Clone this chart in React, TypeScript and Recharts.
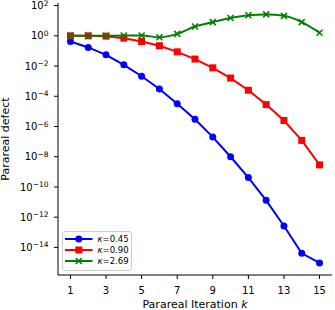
import React from "react";
import {
  LineChart,
  Line,
  XAxis,
  YAxis,
  Legend,
} from "recharts";

const iterations = [1, 2, 3, 4, 5, 6, 7, 8, 9, 10, 11, 12, 13, 14, 15];

const kappa045 = [
  0.42, 0.17, 0.055, 1.2e-2, 2.1e-3, 3.0e-4, 3.2e-5, 3.0e-6, 2.0e-7, 1.0e-8,
  4.2e-10, 1.3e-11, 2.6e-13, 4.1e-15, 9.5e-16,
];
const kappa090 = [
  1.0, 1.0, 0.95, 0.7, 0.42, 0.22, 0.087, 0.029, 7.6e-3, 1.6e-3, 2.5e-4,
  2.8e-5, 2.5e-6, 1.2e-7, 2.9e-9,
];
const kappa269 = [
  1.0, 1.0, 1.0, 1.05, 1.05, 0.8, 1.35, 4.1, 8.1, 15, 23, 26, 21, 8.1, 1.6,
];

const xTicks = [1, 3, 5, 7, 9, 11, 13, 15];
const yTicks = [1e2, 1, 1e-2, 1e-4, 1e-6, 1e-8, 1e-10, 1e-12, 1e-14];
const yExponents = ["2", "0", "−2", "−4", "−6", "−8", "−10", "−12", "−14"];

const legendItems = [
  { label: "0.45", color: "#0000ff", marker: "circle" },
  { label: "0.90", color: "#ff0000", marker: "square" },
  { label: "2.69", color: "#008000", marker: "x" },
];

const data = iterations.map((k, i) => ({
  k,
  a: kappa045[i],
  b: kappa090[i],
  c: kappa269[i],
}));

const FONT = "DejaVu Sans, sans-serif";
const X_DOMAIN = [0.3, 15.7];
const Y_DOMAIN = [1.5e-16, 148];

function Marker({ kind, cx, cy, color }: any) {
  if (kind === "circle") return <circle cx={cx} cy={cy} r={3.5} fill={color} />;
  if (kind === "square")
    return <rect x={cx - 3.5} y={cy - 3.5} width={7} height={7} fill={color} />;
  return (
    <path
      d={`M${cx - 3},${cy - 3}L${cx + 3},${cy + 3}M${cx - 3},${cy + 3}L${cx + 3},${cy - 3}`}
      stroke={color}
      strokeWidth={1.6}
      fill="none"
    />
  );
}

const dotFor = (kind: string, color: string) => (props: any) => (
  <Marker key={`${kind}-${props.index}`} kind={kind} cx={props.cx} cy={props.cy} color={color} />
);

function YTick({ x, y, payload, index }: any) {
  const i = yTicks.indexOf(payload.value);
  const exp = yExponents[i >= 0 ? i : index];
  return (
    <text x={x - 3.5} y={y + 3.6} textAnchor="end" fontSize={10} fontFamily={FONT} fill="#000">
      <tspan>10</tspan>
      <tspan dy={-3.6} fontSize={7.5}>
        {exp}
      </tspan>
    </text>
  );
}

function XLabel({ viewBox }: any) {
  const { x, y, width, height } = viewBox;
  return (
    <text x={x + width / 2} y={y + height - 2.5} textAnchor="middle" fontSize={11} fontFamily={FONT} fill="#000">
      Parareal Iteration <tspan fontStyle="italic">k</tspan>
    </text>
  );
}

function YLabel({ viewBox }: any) {
  const { y, height } = viewBox;
  const cy = y + height / 2;
  return (
    <text
      x={5.5}
      y={cy}
      textAnchor="middle"
      dominantBaseline="central"
      transform={`rotate(-90, 5.5, ${cy})`}
      fontSize={11}
      fontFamily={FONT}
      fill="#000"
    >
      Parareal defect
    </text>
  );
}

function LegendBox() {
  return (
    <div
      style={{
        width: 70,
        height: 40,
        boxSizing: "border-box",
        border: "1px solid #cccccc",
        borderRadius: 3,
        background: "rgba(255,255,255,0.8)",
      }}
    >
      <svg width={68} height={38} style={{ display: "block" }}>
        {legendItems.map((item, i) => {
          const cy = 7 + i * 11;
          return (
            <g key={item.label}>
              <line x1={2} x2={29.5} y1={cy} y2={cy} stroke={item.color} strokeWidth={2} />
              <Marker kind={item.marker} cx={15.8} cy={cy} color={item.color} />
              <text x={34.5} y={cy + 3} fontSize={8.5} fontFamily={FONT} fill="#000">
                <tspan fontStyle="italic">κ</tspan>={item.label}
              </text>
            </g>
          );
        })}
      </svg>
    </div>
  );
}

export default function App() {
  return (
    <div style={{ position: "absolute", left: 0, top: 0, background: "#fff" }}>
      <LineChart
        width={335}
        height={310}
        data={data}
        margin={{ top: 3, right: 3, bottom: 0, left: 0 }}
      >
        <XAxis
          dataKey="k"
          type="number"
          domain={X_DOMAIN}
          ticks={xTicks}
          interval={0}
          allowDataOverflow
          height={35}
          tickSize={4}
          tickMargin={7.5}
          stroke="#000"
          tick={{ fontSize: 10, fill: "#000", fontFamily: FONT }}
          label={{ position: "insideBottom", content: XLabel }}
        />
        <XAxis
          xAxisId="top"
          orientation="top"
          dataKey="k"
          type="number"
          domain={X_DOMAIN}
          allowDataOverflow
          height={0}
          tick={false}
          tickLine={false}
          stroke="#000"
        />
        <YAxis
          scale="log"
          type="number"
          domain={Y_DOMAIN}
          ticks={yTicks}
          interval={0}
          allowDataOverflow
          width={58}
          tickSize={4}
          stroke="#000"
          tick={<YTick />}
          label={{ position: "insideLeft", content: YLabel }}
        />
        <YAxis
          yAxisId="right"
          orientation="right"
          scale="log"
          type="number"
          domain={Y_DOMAIN}
          allowDataOverflow
          width={0}
          tick={false}
          tickLine={false}
          stroke="#000"
        />
        {/* invisible series so the top/right frame axes get drawn */}
        <Line
          xAxisId="top"
          yAxisId="right"
          dataKey="c"
          stroke="none"
          dot={false}
          legendType="none"
          isAnimationActive={false}
        />
        <Line
          dataKey="a"
          stroke="#0000ff"
          strokeWidth={2}
          dot={dotFor("circle", "#0000ff")}
          isAnimationActive={false}
        />
        <Line
          dataKey="b"
          stroke="#ff0000"
          strokeWidth={2}
          dot={dotFor("square", "#ff0000")}
          isAnimationActive={false}
        />
        <Line
          type="monotone"
          dataKey="c"
          stroke="#008000"
          strokeWidth={2}
          dot={dotFor("x", "#008000")}
          isAnimationActive={false}
        />
        <Legend
          layout="horizontal"
          verticalAlign="middle"
          align="center"
          wrapperStyle={{ left: 62, top: 230.5, width: 70, height: 40 }}
          content={() => <LegendBox />}
        />
      </LineChart>
    </div>
  );
}
